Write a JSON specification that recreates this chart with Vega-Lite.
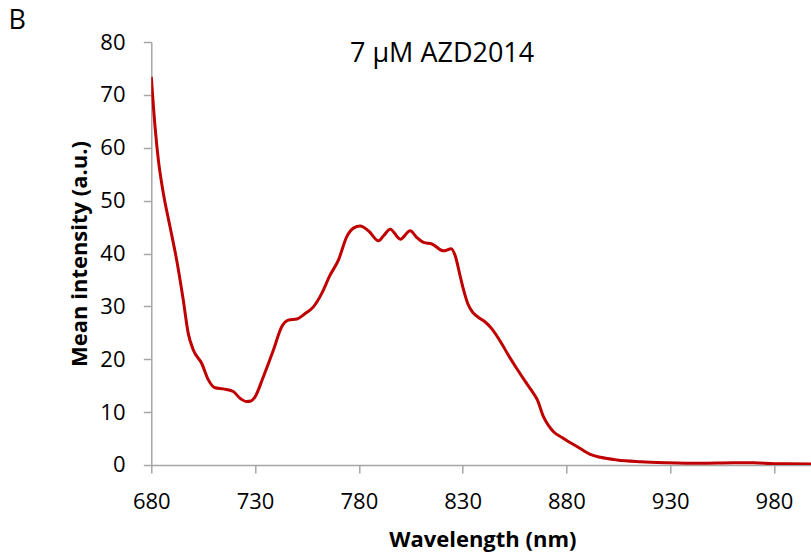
{
  "$schema": "https://vega.github.io/schema/vega-lite/v6.json",
  "width": 660,
  "height": 423,
  "autosize": {"type": "none"},
  "padding": {"left": 151.3, "top": 42, "right": 0, "bottom": 93},
  "background": "white",
  "config": {"view": {"stroke": null}, "font": "Open Sans"},
  "layer": [
    {
      "data": {
        "values": [
          {"wavelength": 680, "intensity": 73.4},
          {"wavelength": 681.8, "intensity": 64.0},
          {"wavelength": 683.4, "intensity": 57.7},
          {"wavelength": 685.8, "intensity": 51.4},
          {"wavelength": 689, "intensity": 45.1},
          {"wavelength": 692.2, "intensity": 38.8},
          {"wavelength": 695.4, "intensity": 31.2},
          {"wavelength": 697.8, "intensity": 24.9},
          {"wavelength": 700.3, "intensity": 21.7},
          {"wavelength": 704.3, "intensity": 19.2},
          {"wavelength": 707.5, "intensity": 16.1},
          {"wavelength": 710.7, "intensity": 14.6},
          {"wavelength": 714.7, "intensity": 14.4},
          {"wavelength": 719.5, "intensity": 13.9},
          {"wavelength": 722.8, "intensity": 12.6},
          {"wavelength": 726, "intensity": 12.0},
          {"wavelength": 728, "intensity": 12.1},
          {"wavelength": 730, "intensity": 12.9},
          {"wavelength": 734, "intensity": 16.7},
          {"wavelength": 738.8, "intensity": 21.7},
          {"wavelength": 742.9, "intensity": 26.2},
          {"wavelength": 746.1, "intensity": 27.4},
          {"wavelength": 750.1, "intensity": 27.6},
          {"wavelength": 754, "intensity": 28.6},
          {"wavelength": 758.1, "intensity": 29.9},
          {"wavelength": 762.2, "intensity": 32.5},
          {"wavelength": 766, "intensity": 35.8},
          {"wavelength": 770.2, "intensity": 38.8},
          {"wavelength": 774.2, "intensity": 43.2},
          {"wavelength": 777.4, "intensity": 44.8},
          {"wavelength": 780.6, "intensity": 45.2},
          {"wavelength": 784.6, "intensity": 44.3},
          {"wavelength": 789.5, "intensity": 42.4},
          {"wavelength": 792, "intensity": 43.4},
          {"wavelength": 795.1, "intensity": 44.6},
          {"wavelength": 800, "intensity": 42.7},
          {"wavelength": 804.7, "intensity": 44.3},
          {"wavelength": 808, "intensity": 43.0},
          {"wavelength": 811.2, "intensity": 42.1},
          {"wavelength": 815.2, "intensity": 41.8},
          {"wavelength": 820.8, "intensity": 40.5},
          {"wavelength": 824.5, "intensity": 40.9},
          {"wavelength": 826.4, "intensity": 39.6},
          {"wavelength": 828.9, "intensity": 35.6},
          {"wavelength": 830.4, "intensity": 33.2},
          {"wavelength": 832.5, "intensity": 30.5},
          {"wavelength": 835, "intensity": 28.8},
          {"wavelength": 838, "intensity": 27.8},
          {"wavelength": 841, "intensity": 27.0},
          {"wavelength": 844, "intensity": 25.8},
          {"wavelength": 848, "intensity": 23.5},
          {"wavelength": 852, "intensity": 20.8},
          {"wavelength": 856, "intensity": 18.3},
          {"wavelength": 860, "intensity": 15.9},
          {"wavelength": 863, "intensity": 14.2},
          {"wavelength": 866, "intensity": 12.3},
          {"wavelength": 869, "intensity": 9.1},
          {"wavelength": 871.5, "intensity": 7.4},
          {"wavelength": 873.8, "intensity": 6.3},
          {"wavelength": 877.9, "intensity": 5.2},
          {"wavelength": 881.5, "intensity": 4.3},
          {"wavelength": 885.1, "intensity": 3.5},
          {"wavelength": 891.5, "intensity": 2.0},
          {"wavelength": 896.4, "intensity": 1.45},
          {"wavelength": 904.4, "intensity": 0.95},
          {"wavelength": 915.7, "intensity": 0.63},
          {"wavelength": 928.5, "intensity": 0.44},
          {"wavelength": 944.6, "intensity": 0.32},
          {"wavelength": 960.6, "intensity": 0.42},
          {"wavelength": 970.3, "intensity": 0.42},
          {"wavelength": 980, "intensity": 0.25},
          {"wavelength": 998, "intensity": 0.2}
        ]
      },
      "mark": {"type": "line", "color": "#C00000", "strokeWidth": 3, "interpolate": "monotone", "clip": true},
      "encoding": {
        "x": {
          "field": "wavelength",
          "type": "quantitative",
          "scale": {"domain": [680, 998], "nice": false, "zero": false},
          "axis": {
            "values": [680, 730, 780, 830, 880, 930, 980],
            "title": "Wavelength (nm)",
            "titleFont": "Open Sans",
            "titleFontSize": 22,
            "titleFontWeight": "bold",
            "titleColor": "#000000",
            "titleBaseline": "alphabetic",
            "titleAlign": "center",
            "titleX": 331,
            "titleY": 81.7,
            "labelFont": "Open Sans",
            "labelFontSize": 22,
            "labelColor": "#000000",
            "labelBaseline": "alphabetic",
            "labelPadding": 35.3,
            "labelFlush": false,
            "labelOverlap": false,
            "tickSize": 8,
            "tickColor": "#a6a6a6",
            "tickWidth": 1.5,
            "domainColor": "#a6a6a6",
            "domainWidth": 1.5,
            "grid": false
          }
        },
        "y": {
          "field": "intensity",
          "type": "quantitative",
          "scale": {"domain": [0, 80], "nice": false},
          "axis": {
            "values": [0, 10, 20, 30, 40, 50, 60, 70, 80],
            "title": "Mean intensity (a.u.)",
            "titleFont": "Open Sans",
            "titleFontSize": 22,
            "titleFontWeight": "bold",
            "titleColor": "#000000",
            "titleBaseline": "alphabetic",
            "titleAlign": "center",
            "titleAngle": 270,
            "titleX": -64.6,
            "titleY": 211.5,
            "labelFont": "Open Sans",
            "labelFontSize": 22,
            "labelColor": "#000000",
            "labelBaseline": "middle",
            "labelPadding": 18.3,
            "labelFlush": false,
            "labelOverlap": false,
            "tickSize": 8,
            "tickColor": "#a6a6a6",
            "tickWidth": 1.5,
            "domainColor": "#a6a6a6",
            "domainWidth": 1.5,
            "grid": false
          }
        }
      }
    },
    {
      "data": {"values": [{"label": "7 µM AZD2014"}]},
      "mark": {"type": "text", "font": "Open Sans", "fontSize": 27, "align": "center", "baseline": "alphabetic", "color": "#000000"},
      "encoding": {
        "text": {"field": "label"},
        "x": {"datum": 820.1, "type": "quantitative"},
        "y": {"datum": 76.2, "type": "quantitative"}
      }
    },
    {
      "data": {"values": [{"label": "B"}]},
      "mark": {"type": "text", "font": "Open Sans", "fontSize": 27, "align": "left", "baseline": "alphabetic", "color": "#000000"},
      "encoding": {
        "text": {"field": "label"},
        "x": {"datum": 611.2, "type": "quantitative"},
        "y": {"datum": 82.4, "type": "quantitative"}
      }
    }
  ]
}
